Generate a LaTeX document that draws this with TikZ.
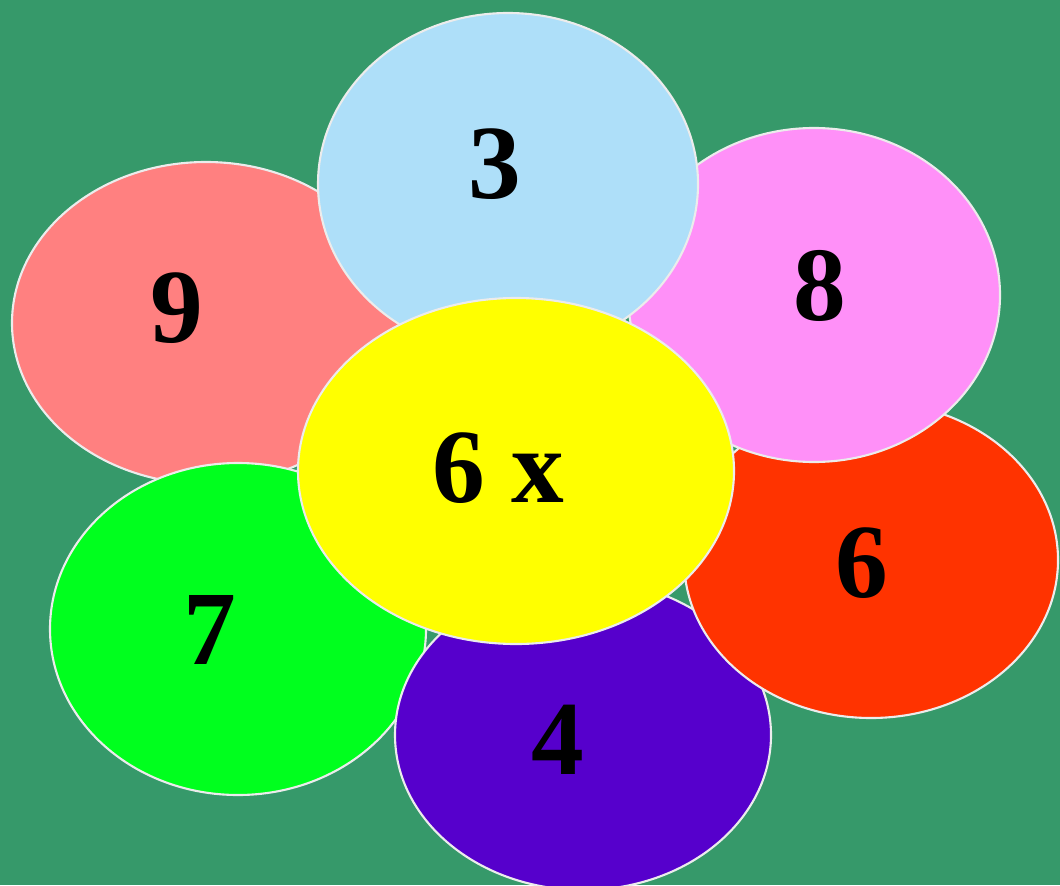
\documentclass[tikz,border=0pt]{standalone}
\usepackage{fontspec}
\setmainfont{Liberation Serif}
\definecolor{meadow}{RGB}{54,153,106}
\definecolor{petalsky}{RGB}{174,223,249}
\definecolor{petalsalmon}{RGB}{255,128,128}
\definecolor{petalorchid}{RGB}{255,144,248}
\definecolor{petalred}{RGB}{255,51,0}
\definecolor{petallime}{RGB}{0,255,30}
\definecolor{petalviolet}{RGB}{86,0,204}
\definecolor{petalcore}{RGB}{255,255,0}
\tikzset{
  petal/.style={draw=white!85!gray, line width=1.2pt},
  digit/.style={inner sep=0pt, font=\fontsize{60}{60}\selectfont\bfseries}
}
\begin{document}
\begin{tikzpicture}[x=0.02cm,y=-0.02cm]
  \useasboundingbox (0,0) rectangle (1060,885);
  \fill[meadow] (0,0) rectangle (1060,885);
  % petals, back to front
  \foreach \cx/\cy/\rx/\ry/\col/\lab/\lx/\ly in
      {206/323/194/161/petalsalmon/9/177/308,
       238/629/188/166/petallime/7/210/630,
       583/735/188/155/petalviolet/4/558/740,
       871/560/187/158/petalred/6/862/563,
       814/295/186/167/petalorchid/8/820/286,
       508/184/190/171/petalsky/3/495/164} {
    \draw[petal, fill=\col] (\cx,\cy) ellipse [x radius={\rx*0.02cm}, y radius={\ry*0.02cm}];
    \node[digit] (num\lab) at (\lx,\ly) {\lab};
  }
  % centre of the flower
  \draw[petal, fill=petalcore] (516,471) ellipse [x radius={218*0.02cm}, y radius={173*0.02cm}];
  \node[digit] (core) at (498,468) {6 x};
\end{tikzpicture}
\end{document}
